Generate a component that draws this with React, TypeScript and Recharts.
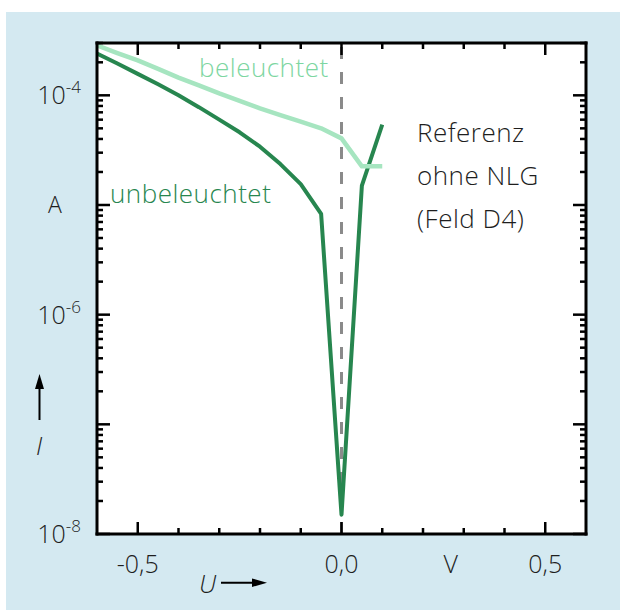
import React from "react";
import { LineChart, Line, XAxis, YAxis, ReferenceLine, CartesianGrid } from "recharts";

// ---- data ----
const voltages = [-0.6, -0.55, -0.5, -0.45, -0.4, -0.35, -0.3, -0.25, -0.2, -0.15, -0.1, -0.05, 0, 0.05, 0.1];
const unbeleuchtet = [2.4e-4, 1.95e-4, 1.57e-4, 1.26e-4, 1.0e-4, 7.8e-5, 6.0e-5, 4.6e-5, 3.4e-5, 2.36e-5, 1.55e-5, 8.3e-6, 1.5e-8, 1.5e-5, 5.4e-5];
const beleuchtet = [2.85e-4, 2.43e-4, 2.08e-4, 1.74e-4, 1.45e-4, 1.23e-4, 1.04e-4, 8.9e-5, 7.6e-5, 6.6e-5, 5.75e-5, 5.0e-5, 4.05e-5, 2.25e-5, 2.25e-5];

const xTicks = [-0.5, -0.4, -0.3, -0.2, -0.1, 0, 0.1, 0.2, 0.3, 0.4, 0.5];
const xMajor = [-0.5, 0, 0.5];
const xTickLabels = ["-0,5", "0,0", "0,5"];
const yDecades = [-8, -7, -6, -5, -4];
const yMantissas = [1, 2, 3, 4, 5, 6, 7, 8, 9];
const yLabelDecades = [-4, -6, -8];
const yUnitDecade = -5;
const xDomain = [-0.6, 0.6];
const yDomain = [1e-8, 3e-4];

const yTicks: number[] = [];
yDecades.forEach((d) =>
  yMantissas.forEach((m) => {
    const v = m * Math.pow(10, d);
    if (v <= yDomain[1] * 1.0001) yTicks.push(v);
  })
);
const data = voltages.map((u, i) => ({ u, dark: unbeleuchtet[i], light: beleuchtet[i] }));

const FONT = "'Open Sans', 'Noto Sans', 'DejaVu Sans', sans-serif";
const FW = 300;
const TXT = "#1e1e1e";
const DARK = "#27864f";
const LIGHT = "#a6e5c0";
const LIGHT_TXT = "#7dd6a1";

function decadeOf(v: number) {
  const e = Math.round(Math.log10(v));
  const isDec = Math.abs(v - Math.pow(10, e)) / v < 1e-6;
  return { e, isDec };
}

const YLeftTick = (props: any) => {
  const { x, y, payload } = props;
  const { e, isDec } = decadeOf(payload.value);
  const len = isDec ? 13 : 6;
  let label: React.ReactNode = null;
  if (isDec && yLabelDecades.includes(e)) {
    label = (
      <text x={x - 16} y={y + 9} textAnchor="end" fontFamily={FONT} fontWeight={FW} fontSize={25} fill={TXT}>
        <tspan>10</tspan>
        <tspan dy={-11} fontSize={17}>{String(e)}</tspan>
      </text>
    );
  } else if (isDec && e === yUnitDecade) {
    label = (
      <text x={x - 42} y={y + 8} textAnchor="middle" fontFamily={FONT} fontWeight={FW} fontSize={23} fill={TXT}>
        A
      </text>
    );
  }
  return (
    <g>
      <line x1={x} x2={x + len} y1={y} y2={y} stroke="#000" strokeWidth={2.5} />
      {label}
    </g>
  );
};

const YRightTick = (props: any) => {
  const { x, y, payload } = props;
  const { isDec } = decadeOf(payload.value);
  const len = isDec ? 13 : 6;
  return <line x1={x} x2={x - len} y1={y} y2={y} stroke="#000" strokeWidth={2.5} />;
};

const XBottomTick = (props: any) => {
  const { x, y, payload } = props;
  const idx = xMajor.findIndex((m) => Math.abs(m - payload.value) < 1e-9);
  const len = idx >= 0 ? 12 : 6;
  return (
    <g>
      <line x1={x} x2={x} y1={y} y2={y - len} stroke="#000" strokeWidth={2.5} />
      {idx >= 0 && (
        <text x={x} y={y + 38.5} textAnchor="middle" fontFamily={FONT} fontWeight={FW} fontSize={25} fill={TXT}>
          {xTickLabels[idx]}
        </text>
      )}
    </g>
  );
};

const XTopTick = (props: any) => {
  const { x, y, payload } = props;
  const idx = xMajor.findIndex((m) => Math.abs(m - payload.value) < 1e-9);
  const len = idx >= 0 ? 12 : 6;
  return <line x1={x} x2={x} y1={y} y2={y + len} stroke="#000" strokeWidth={2.5} />;
};

const axisLine = { stroke: "#000", strokeWidth: 3, strokeLinecap: "square" as const };

export default function App() {
  return (
    <div style={{ position: "absolute", left: 0, top: 0, width: 620, height: 610, background: "#fff", overflow: "hidden" }}>
      <div style={{ position: "absolute", left: 6, top: 12, width: 614, height: 598, background: "#d4e9f1" }} />
      <div style={{ position: "absolute", left: 0, top: 0 }}>
        <LineChart width={620} height={610} data={data} margin={{ top: 42, left: 96, right: 33, bottom: 75 }}>
          <CartesianGrid xAxisId="bottom" yAxisId="left" horizontal={false} vertical={false} fill="#ffffff" />
          <XAxis
            xAxisId="bottom"
            dataKey="u"
            type="number"
            domain={xDomain}
            allowDataOverflow
            ticks={xTicks}
            interval={0}
            height={1}
            tickSize={0}
            tickMargin={0}
            tickLine={false}
            axisLine={axisLine}
            tick={<XBottomTick />}
          />
          <XAxis
            xAxisId="top"
            orientation="top"
            dataKey="u"
            type="number"
            domain={xDomain}
            allowDataOverflow
            ticks={xTicks}
            interval={0}
            height={1}
            tickSize={0}
            tickMargin={0}
            tickLine={false}
            axisLine={axisLine}
            tick={<XTopTick />}
          />
          <YAxis
            yAxisId="left"
            type="number"
            scale="log"
            domain={yDomain}
            allowDataOverflow
            ticks={yTicks}
            interval={0}
            width={1}
            tickSize={0}
            tickMargin={0}
            tickLine={false}
            axisLine={axisLine}
            tick={<YLeftTick />}
          />
          <YAxis
            yAxisId="right"
            orientation="right"
            type="number"
            scale="log"
            domain={yDomain}
            allowDataOverflow
            ticks={yTicks}
            interval={0}
            width={1}
            tickSize={0}
            tickMargin={0}
            tickLine={false}
            axisLine={axisLine}
            tick={<YRightTick />}
          />
          <ReferenceLine
            xAxisId="bottom"
            yAxisId="left"
            x={0}
            stroke="#8a8a8a"
            strokeWidth={3}
            strokeDasharray="12 13"
          />
          <Line
            xAxisId="top"
            yAxisId="right"
            type="linear"
            dataKey="dark"
            stroke="none"
            strokeWidth={0}
            dot={false}
            activeDot={false}
            isAnimationActive={false}
          />
          <Line
            xAxisId="bottom"
            yAxisId="left"
            type="linear"
            dataKey="dark"
            stroke={DARK}
            strokeWidth={4}
            strokeLinejoin="round"
            dot={false}
            isAnimationActive={false}
          />
          <Line
            xAxisId="bottom"
            yAxisId="left"
            type="linear"
            dataKey="light"
            stroke={LIGHT}
            strokeWidth={4.5}
            strokeLinejoin="round"
            dot={false}
            isAnimationActive={false}
          />
        </LineChart>
      </div>
      <svg width={620} height={610} style={{ position: "absolute", left: 0, top: 0, pointerEvents: "none" }}>
        <g fontFamily={FONT} fontWeight={FW} fontSize={26} letterSpacing={0.5}>
          <text x={199} y={77} fill={LIGHT_TXT}>beleuchtet</text>
          <text x={110} y={203} fill={DARK}>unbeleuchtet</text>
          <text x={417} y={142} fill={TXT}>Referenz</text>
          <text x={417} y={185} fill={TXT}>ohne NLG</text>
          <text x={417} y={228} fill={TXT}>(Feld D4)</text>
        </g>
        <text x={450.6} y={572.5} textAnchor="middle" fontFamily={FONT} fontWeight={FW} fontSize={25} fill={TXT}>V</text>
        <text x={39} y={455} textAnchor="middle" fontFamily={FONT} fontWeight={FW} fontSize={25} fontStyle="italic" fill={TXT}>I</text>
        <line x1={39.5} x2={39.5} y1={420} y2={386} stroke="#000" strokeWidth={2} />
        <polygon points="35,389 44,389 39.5,374" fill="#000" />
        <text x={199} y={593} fontFamily={FONT} fontWeight={FW} fontSize={25} fontStyle="italic" fill={TXT}>U</text>
        <line x1={221} x2={254} y1={582.7} y2={582.7} stroke="#000" strokeWidth={2} />
        <polygon points="252,578.5 252,587 267,582.7" fill="#000" />
      </svg>
    </div>
  );
}
